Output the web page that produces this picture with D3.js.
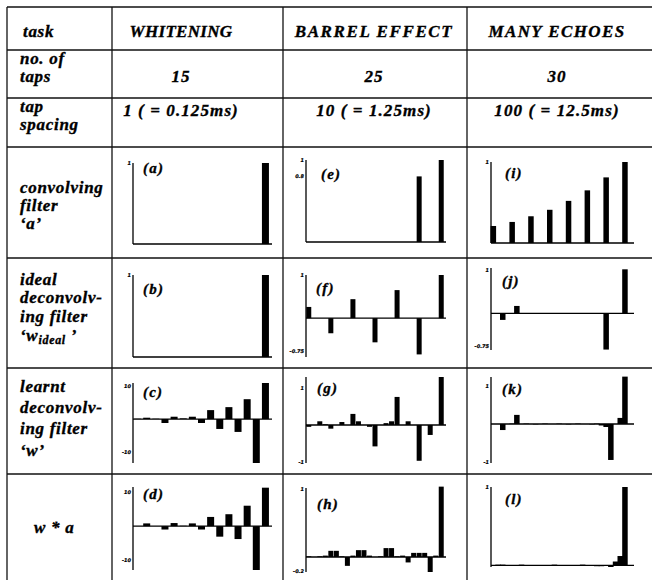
<!DOCTYPE html>
<html>
<head>
<meta charset="utf-8">
<title>Deconvolving filters</title>
<script src="https://d3js.org/d3.v7.min.js"></script>
<style>
body { margin: 0; background: #fff; }
text { font-family: "Liberation Serif", "Times New Roman", serif; font-weight: bold; font-style: italic; fill: #000; stroke: #000; stroke-width: 0.35; }
</style>
</head>
<body>
<script>
// table text
var tasks = ["WHITENING", "BARREL EFFECT", "MANY ECHOES"];
var numTaps = [15, 25, 30];
var tapSpacing = ["1 ( = 0.125ms)", "10 ( = 1.25ms)", "100 ( = 12.5ms)"];
var panelNames = ["(a)", "(b)", "(c)", "(d)", "(e)", "(f)", "(g)", "(h)", "(i)", "(j)", "(k)", "(l)"];

// whitening, 15 taps
var aWhitening      = [0, 0, 0, 0, 0, 0, 0, 0, 0, 0, 0, 0, 0, 0, 1];
var wIdealWhitening = [0, 0, 0, 0, 0, 0, 0, 0, 0, 0, 0, 0, 0, 0, 1];
var wWhitening      = [0.1, 0.4, 0.1, -1.2, 0.7, 0.2, 0.7, -1.2, 2.7, -3.0, 3.6, -3.9, 6.0, -13.3, 10.9];
var waWhitening     = [0, 0.8, 0, -1.0, 0.9, 0.1, 0.8, -1.0, 2.7, -3.1, 3.5, -3.8, 6.0, -12.9, 11.3];

// barrel effect, 25 taps
var aBarrel      = [0, 0, 0, 0, 0, 0, 0, 0, 0, 0, 0, 0, 0, 0, 0, 0, 0, 0, 0, 0, 0.8, 0, 0, 0, 1];
var wIdealBarrel = [0.26, 0, 0, 0, -0.35, 0, 0, 0, 0.44, 0, 0, 0, -0.56, 0, 0, 0, 0.65, 0, 0, 0, -0.84, 0, 0, 0, 1.0];
var wBarrel      = [-0.05, 0, 0.1, 0.02, -0.1, 0, 0.08, 0, 0.3, 0.1, 0, -0.05, -0.58, 0, 0.05, 0.1, 0.76, 0, 0.1, 0, -0.97, 0, -0.27, 0, 1.3];
var waBarrel     = [0.01, 0, 0.01, 0.02, 0.09, 0.09, 0.01, -0.13, 0.02, 0.1, 0.1, 0.02, 0, 0.01, 0.13, 0.13, 0.01, 0.02, -0.08, 0.06, 0.06, 0.06, -0.22, 0.02, 1.03];

// many echoes, 30 taps
var aEchoes      = [0.21, 0, 0, 0, 0.26, 0, 0, 0, 0.33, 0, 0, 0, 0.41, 0, 0, 0, 0.52, 0, 0, 0, 0.65, 0, 0, 0, 0.81, 0, 0, 0, 1.0, 0];
var wIdealEchoes = [0, 0, -0.15, 0, 0, 0.17, 0, 0, 0, 0, 0, 0, 0, 0, 0, 0, 0, 0, 0, 0, 0, 0, 0, 0, -0.83, 0, 0, 0, 1.01, 0];
var wEchoes      = [0, 0, -0.16, 0, 0.01, 0.24, 0, 0.01, 0, -0.01, 0, 0.01, 0, 0, 0.01, 0, -0.01, 0, 0.01, 0, 0, -0.01, 0.01, -0.04, -0.08, -0.95, 0, 0.16, 1.25, 0];
var waEchoes     = [0, 0.01, 0.01, 0, 0, 0, 0.01, 0, 0, 0, 0, 0, 0, 0.01, 0, 0, 0, 0, 0, 0.01, 0, 0, -0.01, -0.01, 0, -0.02, 0.05, 0.12, 1.0, 0];

var panelSeries = [aWhitening, wIdealWhitening, wWhitening, waWhitening,
                   aBarrel, wIdealBarrel, wBarrel, waBarrel,
                   aEchoes, wIdealEchoes, wEchoes, waEchoes];
var panelTicks = [[1], [1], [10, -10], [10, -10],
                  [1, 0.8], [1, -0.75], [1, -1], [1, -0.2],
                  [1], [1, -0.75], [1, -1], [1]];

// layout
var W = 652, H = 580;
var rowLines = [7, 50, 98, 147, 258, 368, 474];
var colLines = [7, 112, 283, 467];
var colCenter = [181, 374, 557];
var headSpacing = [0.3, 1.6, 1.4];
var colRange = [[133, 270], [306, 444], [491, 632]];
var barWidth = [7, 5, 5.5];
// per panel: plot top/bottom in px, y domain, label position
var panelBox = [
    {top: 163, bottom: 244, lo: 0, hi: 1, lx: 143, ly: 173},
    {top: 275, bottom: 357, lo: 0, hi: 1, lx: 143, ly: 294},
    {top: 383, bottom: 463, lo: -13.3, hi: 10.9, lx: 143, ly: 397},
    {top: 487, bottom: 570, lo: -12.9, hi: 11.5, lx: 143, ly: 499},
    {top: 160, bottom: 242, lo: 0, hi: 1, lx: 321, ly: 179},
    {top: 275, bottom: 357, lo: -0.9, hi: 1.0, lx: 316, ly: 293},
    {top: 377, bottom: 463, lo: -1.03, hi: 1.3, lx: 317, ly: 393},
    {top: 488, bottom: 572, lo: -0.22, hi: 1.01, lx: 317, ly: 509},
    {top: 162, bottom: 243, lo: 0, hi: 1, lx: 505, ly: 178},
    {top: 268, bottom: 350, lo: -0.84, hi: 1.04, lx: 502, ly: 286},
    {top: 377, bottom: 463, lo: -1.03, hi: 1.24, lx: 502, ly: 394},
    {top: 487, bottom: 567, lo: -0.02, hi: 1, lx: 505, ly: 504}
];

var svg = d3.select("body").append("svg").attr("width", W).attr("height", H);
svg.append("rect").attr("width", W).attr("height", H).attr("fill", "#fff");

// grid
svg.selectAll("line.row").data(rowLines).enter().append("line")
    .attr("class", "row")
    .attr("x1", colLines[0]).attr("x2", W)
    .attr("y1", function(d) { return d; }).attr("y2", function(d) { return d; })
    .attr("stroke", "#111").attr("stroke-width", 1.3);
svg.selectAll("line.col").data(colLines).enter().append("line")
    .attr("class", "col")
    .attr("y1", rowLines[0]).attr("y2", H)
    .attr("x1", function(d) { return d; }).attr("x2", function(d) { return d; })
    .attr("stroke", "#111").attr("stroke-width", 1.3);

// row labels
var rowText = [
    {lines: ["task"], y: [37], x: 23},
    {lines: ["no. of", "taps"], y: [64, 82], x: 20},
    {lines: ["tap", "spacing"], y: [112, 130], x: 20},
    {lines: ["convolving", "filter", "\u2018a\u2019"], y: [193, 211, 229], x: 20},
    {lines: ["ideal", "deconvolv-", "ing filter", null], y: [285, 303, 322, 341], x: 20},
    {lines: ["learnt", "deconvolv-", "ing filter", "\u2018w\u2019"], y: [392, 413, 434, 456], x: 20},
    {lines: ["w * a"], y: [533], x: 34}
];
rowText.forEach(function(r) {
    r.lines.forEach(function(s, k) {
        var t = svg.append("text").attr("x", r.x).attr("y", r.y[k])
            .attr("font-size", 17).attr("letter-spacing", 0.7);
        if (s === null) {
            t.append("tspan").text("\u2018w");
            t.append("tspan").attr("font-size", 12).attr("dy", 3).text("ideal");
            t.append("tspan").attr("dy", -3).text(" \u2019");
        } else {
            t.text(s);
        }
    });
});

// header cells
function cellText(arr, y, spacing) {
    svg.selectAll(null).data(arr).enter().append("text")
        .attr("x", function(d, i) { return colCenter[i]; })
        .attr("y", y)
        .attr("text-anchor", "middle")
        .attr("font-size", 17)
        .attr("letter-spacing", spacing)
        .text(function(d) { return d; });
}
cellText(tasks, 37, function(d, i) { return headSpacing[i]; });
cellText(numTaps, 82, 1);
cellText(tapSpacing, 116, 1.1);

// bar panels
panelSeries.forEach(function(values, p) {
    var col = Math.floor(p / 4);
    var box = panelBox[p];
    var g = svg.append("g");
    var x = d3.scaleBand().domain(d3.range(values.length)).range(colRange[col]);
    var y = d3.scaleLinear().domain([box.lo, box.hi]).range([box.bottom, box.top]);
    var x0 = colRange[col][0];
    var bw = barWidth[col];

    // zero line
    g.append("line")
        .attr("x1", x0).attr("x2", colRange[col][1] + 2)
        .attr("y1", y(0)).attr("y2", y(0))
        .attr("stroke", "#000").attr("stroke-width", 1.3);
    // y axis
    g.append("line")
        .attr("x1", x0).attr("x2", x0)
        .attr("y1", box.top).attr("y2", box.bottom)
        .attr("stroke", "#000").attr("stroke-width", 1.3);

    g.selectAll("rect").data(values).enter().append("rect")
        .attr("x", function(d, i) { return x(i) + x.bandwidth() / 2 - bw / 2; })
        .attr("width", bw)
        .attr("y", function(d) { return Math.min(y(d), y(0)); })
        .attr("height", function(d) { return Math.abs(y(d) - y(0)); })
        .attr("fill", "#000");

    g.selectAll("text.tick").data(panelTicks[p]).enter().append("text")
        .attr("class", "tick")
        .attr("x", x0 - 2)
        .attr("y", function(d) { return y(d) + 2; })
        .attr("text-anchor", "end")
        .attr("font-size", 5)
        .style("font-family", "DejaVu Sans")
        .style("stroke-width", 0.2)
        .text(function(d) { return d; });

    g.append("text")
        .attr("x", box.lx).attr("y", box.ly)
        .attr("font-size", 15)
        .attr("letter-spacing", 1.2)
        .text(panelNames[p]);
});
</script>
</body>
</html>
